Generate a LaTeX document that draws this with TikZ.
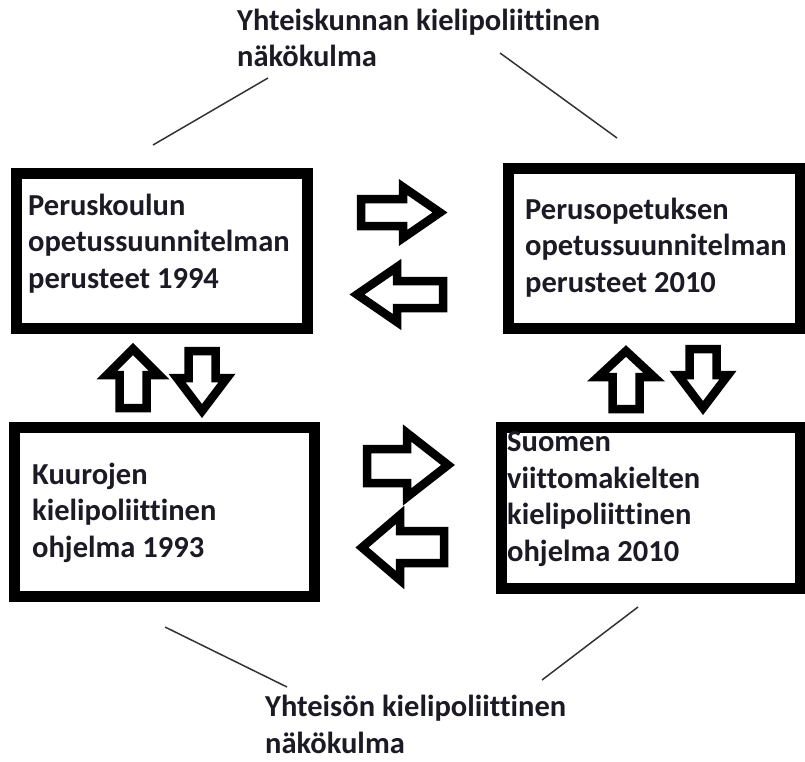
\documentclass[tikz,border=0pt]{standalone}
\usepackage{fontspec}
\setmainfont[RawFeature=-liga]{Carlito}
\definecolor{txt}{HTML}{1C1A24}
\definecolor{linec}{HTML}{333333}
\begin{document}
\begin{tikzpicture}[x=1pt,y=-1pt,
  boxframe/.style={draw=black, line width=11pt, inner sep=0pt, minimum width=#1},
  boxtext/.style={anchor=base west, align=left, inner sep=0pt, font=\fontsize{30.5}{36.5}\selectfont\bfseries, text=txt},
  blockarrow/.style={draw=black, line width=8.5pt, line join=miter, fill=white},
  thinline/.style={draw=linec, line width=1.5pt}]
\fill[white] (0,0) rectangle (805,762);
\useasboundingbox (0,0) rectangle (805,762);

% boxes
\node[boxframe=291pt, minimum height=154pt] (b1) at (161.5,251) {};
\node[boxframe=292pt, minimum height=159pt] (b2) at (654,248.5) {};
\node[boxframe=300pt, minimum height=169pt] (b3) at (164,511.5) {};
\node[boxframe=299pt, minimum height=161pt] (b4) at (650.5,507.5) {};

% texts (anchor = baseline of the last line)
\node[boxtext] (t1) at (28,288) {Peruskoulun\\opetussuunnitelman\\perusteet 1994};
\node[boxtext] (t2) at (525,292) {Perusopetuksen\\opetussuunnitelman\\perusteet 2010};
\node[boxtext] (t3) at (32,557) {Kuurojen\\kielipoliittinen\\ohjelma 1993};
\node[boxtext] (t4) at (507,561) {Suomen\\viittomakielten\\kielipoliittinen\\ohjelma 2010};
\node[boxtext] (top) at (237,67) {Yhteiskunnan kielipoliittinen\\näkökulma};
\node[boxtext] (bot) at (265,753) {Yhteisön kielipoliittinen\\näkökulma};

% block arrows between boxes
\draw[blockarrow] (361,199) -- (403,199) -- (403,187) -- (440,212.5) -- (403,238) -- (403,226) -- (361,226) -- cycle;
\draw[blockarrow] (443,281) -- (397,281) -- (397,267) -- (357,294.5) -- (397,322) -- (397,308) -- (443,308) -- cycle;
\draw[blockarrow] (367,449) -- (407,449) -- (407,433) -- (448,465) -- (407,497) -- (407,483) -- (367,483) -- cycle;
\draw[blockarrow] (444,531) -- (400,531) -- (400,515) -- (362,547.5) -- (400,580) -- (400,563) -- (444,563) -- cycle;
\draw[blockarrow] (119.5,408) -- (119.5,375) -- (107,375) -- (133,349) -- (159,375) -- (146.5,375) -- (146.5,408) -- cycle;
\draw[blockarrow] (188.5,351) -- (215.5,351) -- (215.5,378) -- (227,378) -- (202,411) -- (177,378) -- (188.5,378) -- cycle;
\draw[blockarrow] (612.5,409) -- (612.5,377) -- (598,377) -- (626,351) -- (654,377) -- (639.5,377) -- (639.5,409) -- cycle;
\draw[blockarrow] (689.5,349) -- (716.5,349) -- (716.5,375) -- (728,375) -- (703,408) -- (678,375) -- (689.5,375) -- cycle;

% thin lines
\coordinate (l1a) at (153,145); \coordinate (l1b) at (268,78);
\coordinate (l2a) at (500,53);  \coordinate (l2b) at (617,138);
\coordinate (l3a) at (165,627); \coordinate (l3b) at (287,687);
\coordinate (l4a) at (638,607); \coordinate (l4b) at (542,680);
\draw[thinline] (l1a) -- (l1b);
\draw[thinline] (l2a) -- (l2b);
\draw[thinline] (l3a) -- (l3b);
\draw[thinline] (l4a) -- (l4b);
\end{tikzpicture}
\end{document}
